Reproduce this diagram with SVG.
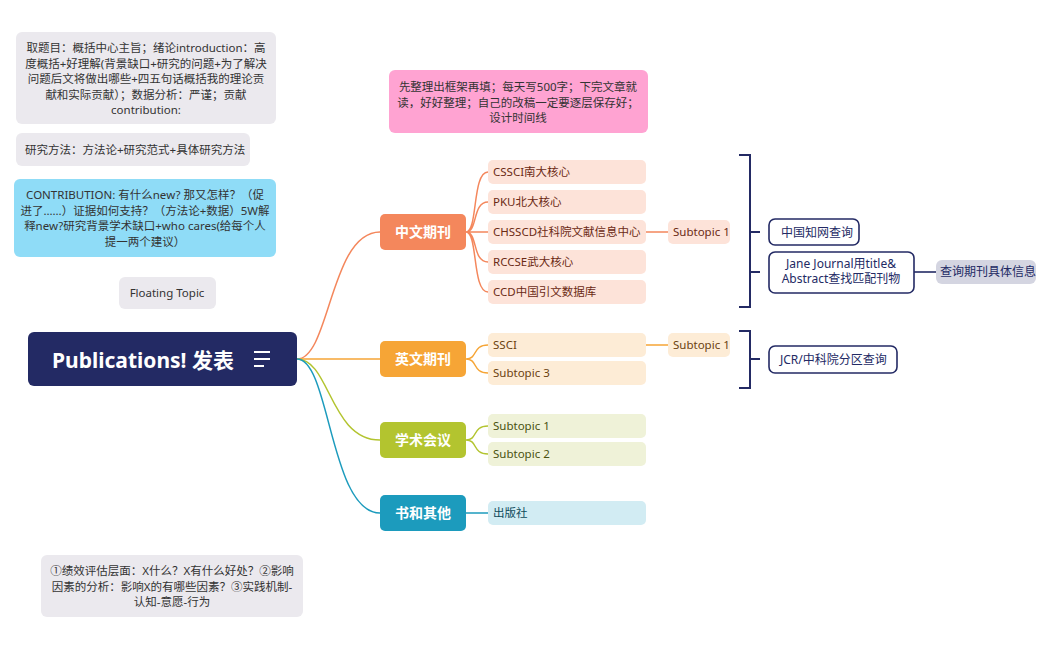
<svg xmlns="http://www.w3.org/2000/svg" width="1050" height="650" viewBox="0 0 1050 650">
<style>
text{font-family:"Noto Sans","Noto Sans CJK SC",sans-serif;font-size:11.5px;fill:#333}
.g{fill:#ebe9ee}
.c{stroke-width:1.5;fill:none}
.b{fill:#fff;stroke:#232a64;stroke-width:1.6}
.bt{fill:#232a64;font-size:12px}
.m{font-size:14px;font-weight:bold;fill:#fff}
</style>
<rect width="1050" height="650" fill="#fff"/>
<g id="connectors">
<path class="c" stroke="#f4875c" d="M297 359 C330 359 330 232 380 232"/>
<path class="c" stroke="#f6a536" d="M297 359 L380 359"/>
<path class="c" stroke="#b3c42f" d="M297 359 C330 359 330 440 380 440"/>
<path class="c" stroke="#1c9bbd" d="M297 359 C330 359 330 513 380 513"/>
<path class="c" stroke="#f4875c" d="M466 232 C478 232 472 172 488 172 M466 232 C478 232 472 202 488 202 M466 232 L488 232 M466 232 C478 232 472 262 488 262 M466 232 C478 232 472 292 488 292 M646 232 L668 232"/>
<path class="c" stroke="#f6a536" d="M466 359 C478 359 472 345 488 345 M466 359 C478 359 472 373 488 373 M646 345 L668 345"/>
<path class="c" stroke="#b3c42f" d="M466 440 C478 440 472 426 488 426 M466 440 C478 440 472 454 488 454"/>
<path class="c" stroke="#1c9bbd" d="M466 513 L488 513"/>
<path fill="none" stroke="#232a64" stroke-width="2" d="M739 155 H750 V307 H739 M750 232 H760 M750 272 H760 M739 331 H750 V388 H739 M750 359 H760"/>
<path fill="none" stroke="#232a64" stroke-width="1.6" d="M914 272 H936"/>
</g>
<g id="n1"><rect class="g" x="16" y="32" width="260" height="92" rx="6"/>
<text text-anchor="middle" x="146" y="52">取题目：概括中心主旨；绪论introduction：高<tspan x="146" dy="15.5">度概括+好理解(背景缺口+研究的问题+为了解决</tspan><tspan x="146" dy="15.5">问题后文将做出哪些+四五句话概括我的理论贡</tspan><tspan x="146" dy="15.5">献和实际贡献）；数据分析：严谨；贡献</tspan><tspan x="146" dy="15.5">contribution:</tspan></text></g>
<g id="n2"><rect class="g" x="16" y="133" width="234" height="33" rx="6"/><text x="25" y="154">研究方法：方法论+研究范式+具体研究方法</text></g>
<g id="n3"><rect fill="#8fdcf7" x="14" y="179" width="262" height="78" rx="6"/>
<text text-anchor="middle" x="145" y="199">CONTRIBUTION: 有什么new? 那又怎样？（促<tspan x="145" dy="15.5">进了……）证据如何支持？（方法论+数据）5W解</tspan><tspan x="145" dy="15.5">释new?研究背景学术缺口+who cares(给每个人</tspan><tspan x="145" dy="15.5">提一两个建议）</tspan></text></g>
<g id="n4"><rect class="g" x="119" y="277" width="97" height="32" rx="6"/><text x="167" y="297" text-anchor="middle">Floating Topic</text></g>
<g id="n5"><rect fill="#ffa3d2" x="389" y="70" width="259" height="63" rx="6"/>
<text text-anchor="middle" x="518" y="91">先整理出框架再填；每天写500字；下完文章就<tspan x="518" dy="15.5">读，好好整理；自己的改稿一定要逐层保存好；</tspan><tspan x="518" dy="15.5">设计时间线</tspan></text></g>
<g id="n6"><rect class="g" x="41" y="555" width="262" height="62" rx="6"/>
<text text-anchor="middle" x="172" y="575">①绩效评估层面：X什么？X有什么好处？②影响<tspan x="172" dy="15.5">因素的分析：影响X的有哪些因素？③实践机制-</tspan><tspan x="172" dy="15.5">认知-意愿-行为</tspan></text></g>
<g id="root"><rect fill="#232a64" x="28" y="332" width="269" height="54" rx="6"/>
<text x="52" y="368" style="font-size:21px;font-weight:bold;fill:#fff">Publications! 发表</text>
<path d="M254 352 H270 M254 359 H270 M254 366 H264" stroke="#fff" stroke-width="2.2"/></g>
<g id="zh"><rect fill="#f4875c" x="380" y="214" width="86" height="36" rx="5"/><text class="m" x="423" y="237" text-anchor="middle">中文期刊</text></g>
<g id="en"><rect fill="#f6a536" x="380" y="341" width="86" height="36" rx="5"/><text class="m" x="423" y="364" text-anchor="middle">英文期刊</text></g>
<g id="conf"><rect fill="#b3c42f" x="380" y="422" width="86" height="36" rx="5"/><text class="m" x="423" y="445" text-anchor="middle">学术会议</text></g>
<g id="book"><rect fill="#1c9bbd" x="380" y="495" width="86" height="36" rx="5"/><text class="m" x="423" y="518" text-anchor="middle">书和其他</text></g>
<g id="zh-subs" fill="#fde3d9">
<rect x="488" y="160" width="158" height="24" rx="5"/><text x="493" y="176" style="fill:#6b2a14">CSSCI南大核心</text>
<rect x="488" y="190" width="158" height="24" rx="5"/><text x="493" y="206" style="fill:#6b2a14">PKU北大核心</text>
<rect x="488" y="220" width="158" height="24" rx="5"/><text x="493" y="236" style="fill:#6b2a14">CHSSCD社科院文献信息中心</text>
<rect x="488" y="250" width="158" height="24" rx="5"/><text x="493" y="266" style="fill:#6b2a14">RCCSE武大核心</text>
<rect x="488" y="280" width="158" height="24" rx="5"/><text x="493" y="296" style="fill:#6b2a14">CCD中国引文数据库</text>
<rect x="668" y="220" width="62" height="24" rx="5"/><text x="673" y="236" style="fill:#6b2a14">Subtopic 1</text>
</g>
<g id="en-subs" fill="#fdecd6">
<rect x="488" y="333" width="158" height="24" rx="5"/><text x="493" y="349" style="fill:#6b4210">SSCI</text>
<rect x="488" y="361" width="158" height="24" rx="5"/><text x="493" y="377" style="fill:#6b4210">Subtopic 3</text>
<rect x="668" y="333" width="62" height="24" rx="5"/><text x="673" y="349" style="fill:#6b4210">Subtopic 1</text>
</g>
<g id="conf-subs" fill="#eff2d8">
<rect x="488" y="414" width="158" height="24" rx="5"/><text x="493" y="430" style="fill:#4a5210">Subtopic 1</text>
<rect x="488" y="442" width="158" height="24" rx="5"/><text x="493" y="458" style="fill:#4a5210">Subtopic 2</text>
</g>
<g id="book-subs"><rect fill="#d2ecf3" x="488" y="501" width="158" height="24" rx="5"/><text x="493" y="517" style="fill:#0e4a5a">出版社</text></g>
<g id="cnki"><rect class="b" x="769" y="219" width="90" height="26" rx="6"/><text class="bt" x="781" y="237">中国知网查询</text></g>
<g id="jane"><rect class="b" x="769" y="252" width="145" height="41" rx="6"/><text class="bt" x="841" y="268" text-anchor="middle">Jane Journal用title&amp;<tspan x="841" dy="15">Abstract查找匹配刊物</tspan></text></g>
<g id="info"><rect fill="#d4d5e1" x="936" y="260" width="100" height="24" rx="6"/><text class="bt" x="940" y="276">查询期刊具体信息</text></g>
<g id="jcr"><rect class="b" x="769" y="346" width="128" height="27" rx="6"/><text class="bt" x="780" y="364">JCR/中科院分区查询</text></g>
</svg>
